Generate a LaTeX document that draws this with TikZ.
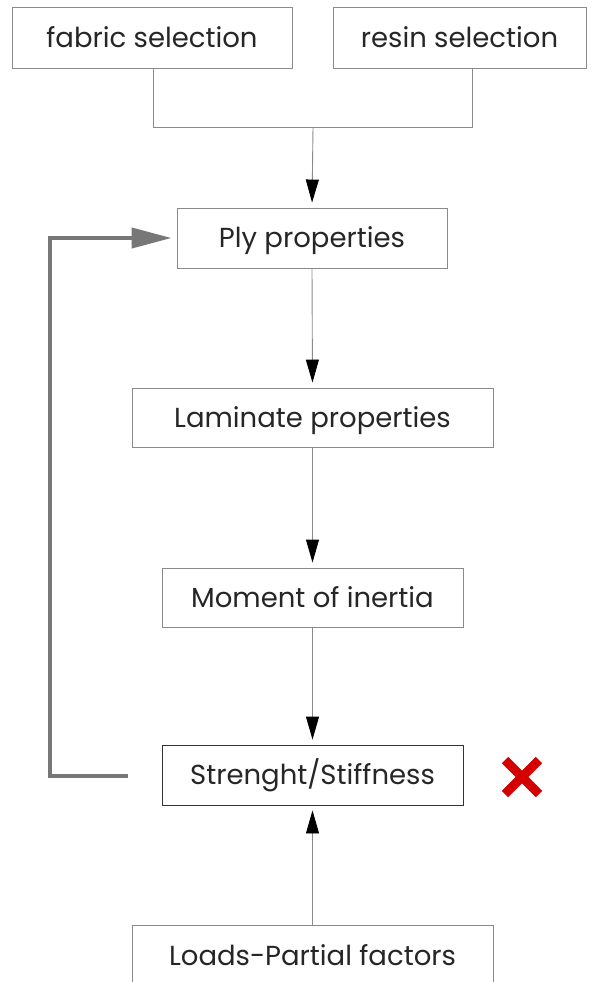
\documentclass[tikz,border=0pt]{standalone}
\usepackage{fontspec}
\setmainfont{Poppins}
\usetikzlibrary{arrows.meta}
\definecolor{linegray}{HTML}{8A8A8A}
\definecolor{loopgray}{HTML}{777777}
\definecolor{crossred}{HTML}{D40000}
\tikzset{
  stage/.style={draw=linegray, line width=0.9pt, fill=white, inner sep=0pt,
    font=\fontsize{27.5}{32}\selectfont, text=black!85,
    text height=26pt, text depth=6.5pt},
  flow/.style={draw=linegray, line width=0.9pt, shorten >=5pt,
    -{Triangle[length=23pt,width=13pt,fill=black,color=black]}},
  feedback/.style={draw=loopgray, line width=4pt,
    -{Triangle[length=40pt,width=20pt,fill=loopgray,color=loopgray]}}
}
\begin{document}
\begin{tikzpicture}[x=1pt,y=-1pt]
    \useasboundingbox (0,0) rectangle (594,982);
    \clip (0,0) rectangle (594,982);
    % material choice
    \node[stage, minimum width=280pt, minimum height=61pt] (fabric) at (152,37.5) {fabric selection};
    \node[stage, minimum width=253pt, minimum height=61pt] (resin) at (459.5,37.5) {resin selection};
    % design chain
    \node[stage, minimum width=270pt, minimum height=60pt] (ply) at (312,238) {Ply properties};
    \node[stage, minimum width=361pt, minimum height=59pt] (laminate) at (312.5,417.5) {Laminate properties};
    \node[stage, minimum width=301pt, minimum height=59pt] (inertia) at (312.5,597.5) {Moment of inertia};
    \node[stage, draw=black!80, minimum width=301pt, minimum height=60pt] (strength) at (312.5,775) {Strenght/Stiffness};
    \node[stage, minimum width=361pt, minimum height=114pt, text depth=60pt] (loads) at (312.5,982) {Loads-Partial factors};
    % join of the two selections
    \coordinate (fabricJ) at (153,127);
    \coordinate (resinJ) at (472,127);
    \coordinate (join) at (313,127);
    \draw[linegray, line width=0.9pt] (fabricJ |- fabric.south) -- (fabricJ) -- (resinJ) -- (resinJ |- resin.south);
    \draw[flow] (join) -- (ply.north);
    % arrows down the chain
    \draw[flow] (ply.south) -- (laminate.north);
    \draw[flow] (laminate.south) -- (inertia.north);
    \draw[flow] (inertia.south) -- (strength.north);
    \draw[flow] (loads.north) -- (strength.south);
    % loop back when the check fails
    \coordinate (loopStart) at (128,776);
    \coordinate (loopCorner) at (50,776);
    \draw[feedback] (loopStart) -- (loopCorner) |- ([xshift=-5pt]ply.west);
    % failed mark
    \coordinate (cross) at (522,777);
    \draw[crossred, line width=9pt] ([shift={(-17,-17)}]cross) -- ([shift={(17,17)}]cross);
    \draw[crossred, line width=9pt] ([shift={(-17,17)}]cross) -- ([shift={(17,-17)}]cross);
\end{tikzpicture}
\end{document}
